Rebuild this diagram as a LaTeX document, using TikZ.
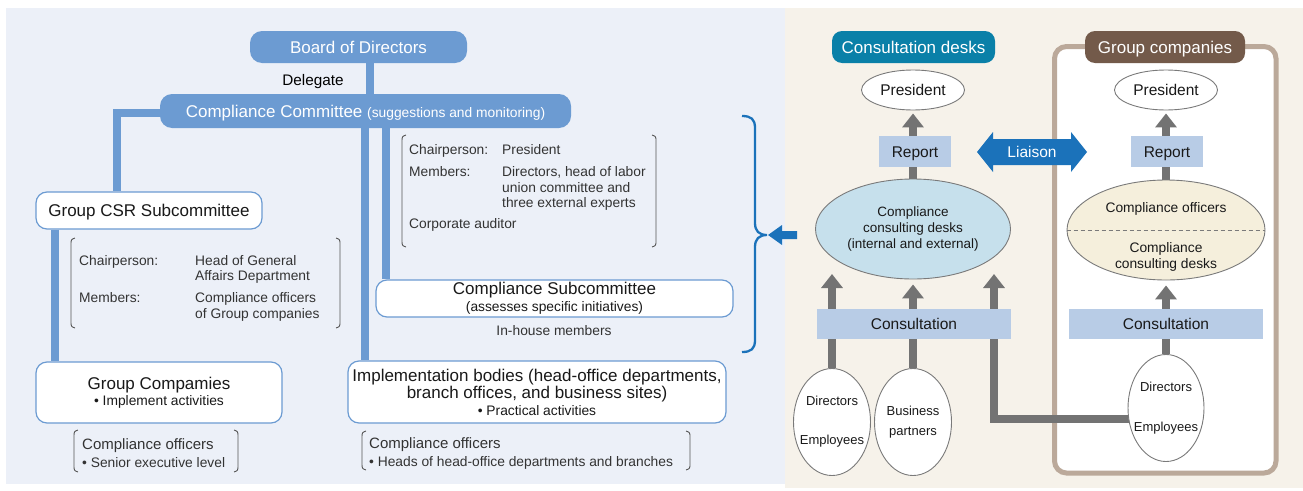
\documentclass[tikz,border=0pt]{standalone}
\usepackage{fontspec}
\setmainfont{Liberation Sans}
\usetikzlibrary{arrows.meta,shapes.geometric,calc}
\definecolor{bgL}{HTML}{ECF0F8}
\definecolor{bgR}{HTML}{F6F2EA}
\definecolor{barblue}{HTML}{6C9BD2}
\definecolor{deskteal}{HTML}{0A80A8}
\definecolor{brownlab}{HTML}{735A4A}
\definecolor{tanframe}{HTML}{BBA99A}
\definecolor{lightbar}{HTML}{B8CCE6}
\definecolor{deskblue}{HTML}{C6E0EC}
\definecolor{deskbeige}{HTML}{F5EFDC}
\definecolor{arrgray}{HTML}{737373}
\definecolor{liaisonblue}{HTML}{1B72BA}
\definecolor{txtgray}{HTML}{333333}
\definecolor{brkgray}{HTML}{555555}
\definecolor{ovalgray}{HTML}{7A7A7A}
\pgfdeclarelayer{back}
\pgfdeclarelayer{mid}
\pgfsetlayers{back,mid,main}
\newcommand\bkL[3]{\draw[brk] ({#1+4},#2) .. controls (#1,{#2+1.5}) .. (#1,{#2+7}) -- (#1,{#3-7}) .. controls (#1,{#3-1.5}) .. ({#1+4},#3);}
\newcommand\bkR[3]{\draw[brk] ({#1-4},#2) .. controls (#1,{#2+1.5}) .. (#1,{#2+7}) -- (#1,{#3-7}) .. controls (#1,{#3-1.5}) .. ({#1-4},#3);}
\begin{document}
\begin{tikzpicture}[x=1pt,y=-1pt,
  fbig/.style={font=\fontsize{17}{17}\selectfont},
  fmid/.style={font=\fontsize{15.5}{16}\selectfont},
  fsmall/.style={font=\fontsize{13.8}{16}\selectfont},
  bluebar/.style={rectangle, rounded corners=12, fill=barblue, text=white, inner sep=0, text height=13pt, text depth=0.8pt},
  wbox/.style={rectangle, rounded corners=11, draw=barblue, line width=1.2, fill=white, inner sep=0, align=center, text=black!90},
  conn/.style={draw=barblue, line width=8.5},
  lab/.style={anchor=base west, inner sep=0, text=txtgray},
  brk/.style={draw=brkgray, line width=0.9},
  oval/.style={ellipse, draw=ovalgray, line width=0.9, inner sep=-15pt, align=center, text=black!90},
  hdr/.style={rectangle, rounded corners=10, text=white, inner sep=0, minimum height=32, fbig, text height=13pt, text depth=0.8pt},
  lbar/.style={rectangle, fill=lightbar, inner sep=0, text=black!90, text height=12pt, text depth=0.9pt},
  garrow/.style={draw=arrgray, line width=8, -{Triangle[width=21pt,length=14pt]}},
  brace/.style={draw=liaisonblue, line width=2.3},
]
\useasboundingbox (0,0) rectangle (1303,490);

% ---------------- left panel nodes
\node[bluebar, fbig, minimum width=217, minimum height=32] (board) at (358.5,47) {Board of Directors};
\node[inner sep=0, font=\fontsize{15.3}{16}\selectfont, anchor=base] (deleg) at (313,85) {Delegate};
\node[bluebar, minimum width=411, minimum height=34] (comm) at (365.5,111) {\fontsize{17}{17}\selectfont Compliance Committee {\fontsize{13.8}{14}\selectfont(suggestions and monitoring)}};
\node[wbox, fbig, minimum width=226, minimum height=37, text height=13pt, text depth=0.8pt] (csr) at (149,210.5) {Group CSR Subcommittee};
\node[wbox, font=\fontsize{17}{16}\selectfont, minimum width=246, minimum height=61] (gc) at (159,392.5) {Group Compamies\\{\fontsize{13.8}{14}\selectfont • Implement activities}};
\node[wbox, font=\fontsize{17}{16.6}\selectfont, minimum width=357, minimum height=37] (sub) at (554.5,298.5) {Compliance Subcommittee\\{\fontsize{13.8}{14}\selectfont(assesses specific initiatives)}};
\node[lab, fsmall, anchor=base] (inh) at (554,335) {In-house members};
\node[wbox, font=\fontsize{17}{17}\selectfont, minimum width=378, minimum height=62] (impl) at (537,392) {Implementation bodies (head-office departments,\\branch offices, and business sites)\\{\fontsize{13.8}{14}\selectfont • Practical activities}};

% committee member list
\node[lab, fsmall] (cc1) at (409,154) {Chairperson:};
\node[lab, fsmall] (cc2) at (502,154) {President};
\node[lab, fsmall] (cc3) at (409,176) {Members:};
\node[lab, fsmall] (cc4) at (502,176) {Directors, head of labor};
\node[lab, fsmall] (cc5) at (502,192) {union committee and};
\node[lab, fsmall] (cc6) at (502,207.5) {three external experts};
\node[lab, fsmall] (cc7) at (409,228.5) {Corporate auditor};
\bkL{402}{135}{247}
\bkR{656}{135}{247}

% CSR member list
\node[lab, fsmall] (cs1) at (79,265) {Chairperson:};
\node[lab, fsmall] (cs2) at (195,265) {Head of General};
\node[lab, fsmall] (cs3) at (195,280.5) {Affairs Department};
\node[lab, fsmall] (cs4) at (79,302) {Members:};
\node[lab, fsmall] (cs5) at (195,302) {Compliance officers};
\node[lab, fsmall] (cs6) at (195,318) {of Group companies};
\bkL{71}{238}{328}
\bkR{340}{238}{328}

% bottom lists
\node[lab, font=\fontsize{15}{16}\selectfont] (gb1) at (82,449) {Compliance officers};
\node[lab, fsmall] (gb2) at (82,467) {• Senior executive level};
\bkL{74}{430}{472}
\bkR{238}{430}{472}
\node[lab, font=\fontsize{15}{16}\selectfont] (ib1) at (369,448) {Compliance officers};
\node[lab, fsmall] (ib2) at (369,466) {• Heads of head-office departments and branches};
\bkL{362}{431}{470}
\bkR{690}{431}{470}

% brace and arrow
\draw[brace] (742,116) .. controls (751,116) and (755,119) .. (755,128) -- (755,223) .. controls (755,231) and (759,235) .. (767,235) .. controls (759,235) and (755,239) .. (755,247) -- (755,340) .. controls (755,349) and (751,352) .. (742,352);
\fill[liaisonblue] (768,235) -- (782,225) -- (782,231) -- (797,231) -- (797,239) -- (782,239) -- (782,245) -- cycle;

% ---------------- right panel nodes
\node[hdr, fill=deskteal, minimum width=163] (hd1) at (913.5,47) {Consultation desks};
\node[hdr, fill=brownlab, minimum width=160] (hd2) at (1165,47) {Group companies};
\node[oval, fill=white, fmid, minimum width=103, minimum height=40] (pres1) at (913,90) {President};
\node[oval, fill=white, fmid, minimum width=103, minimum height=40] (pres2) at (1166,90) {President};
\node[lbar, fmid, minimum width=72, minimum height=31] (rep1) at (915,151.5) {Report};
\node[lbar, fmid, minimum width=72, minimum height=31] (rep2) at (1167,151.5) {Report};
\node[oval, fill=deskblue, font=\fontsize{13.5}{16}\selectfont, minimum width=195, minimum height=100] (desks1) at (913,229) {Compliance\\consulting desks\\(internal and external)};
\node[oval, fill=deskbeige, font=\fontsize{13.8}{15.5}\selectfont, minimum width=198, minimum height=100] (desks2) at (1166,230) {\rule{0pt}{24pt}Compliance officers\\[24.5pt]Compliance\\consulting desks};
\draw[ovalgray, line width=1, dash pattern=on 4pt off 3pt] (desks2.west) -- (desks2.east);
\node[lbar, fmid, minimum width=194, minimum height=30] (cons1) at (914,324) {Consultation};
\node[lbar, fmid, minimum width=194, minimum height=30] (cons2) at (1166,324) {Consultation};
\node[oval, fill=white, font=\fontsize{13}{15}\selectfont, minimum width=77, minimum height=107] (de1) at (832,422) {Directors\\[24pt]Employees};
\node[oval, fill=white, font=\fontsize{13}{15}\selectfont, minimum width=77, minimum height=107] (bp) at (913,422) {Business\\[5pt]partners};
\node[oval, fill=white, font=\fontsize{13}{15}\selectfont, minimum width=76, minimum height=107] (de3) at (1166,408) {Directors\\[25pt]Employees};

% liaison
\fill[liaisonblue] (977,152) -- (993,132) -- (993,139) -- (1071,139) -- (1071,132) -- (1087,152) -- (1071,172) -- (1071,165) -- (993,165) -- (993,172) -- cycle;
\node[fmid, text=white, inner sep=0] (liaison) at (1032,152) {Liaison};

% ---------------- background
\begin{pgfonlayer}{back}
\fill[bgL] (6,8) rectangle (785,484);
\fill[bgR] (785,8) rectangle (1303,488);
\draw[tanframe, line width=5, fill=white, rounded corners=12] (1054.5,46.5) rectangle (1276,473);
\end{pgfonlayer}

% ---------------- connectors
\coordinate (xL) at (117,0);
\coordinate (xG) at (55,0);
\coordinate (xI) at (365,0);
\coordinate (xS) at (386,0);
\coordinate (xB) at (370,0);
\coordinate (t1) at (832,274);
\coordinate (t3) at (994,274);
\coordinate (e3) at ($(de3.west)+(2,11)$);
\begin{pgfonlayer}{mid}
\draw[conn] (board.south -| xB) -- (comm.north -| xB);
\draw[conn] (comm.west) ++(0,2) -| (csr.north -| xL);
\draw[conn] (csr.south -| xG) -- (gc.north -| xG);
\draw[conn] (comm.south -| xI) -- (impl.north -| xI);
\draw[conn] (comm.south -| xS) -- (sub.north -| xS);
\draw[garrow, shorten >=3pt] (desks1.north) -- (pres1.south);
\draw[garrow, shorten >=3pt] (desks2.north) -- (pres2.south);
\draw[garrow] (de1.north) -- (t1);
\draw[garrow, shorten >=5pt] (bp.north) -- (desks1.south);
\draw[garrow, shorten >=5pt] (de3.north) -- (desks2.south);
\draw[garrow] (e3) -| (t3);
\end{pgfonlayer}
\end{tikzpicture}
\end{document}
